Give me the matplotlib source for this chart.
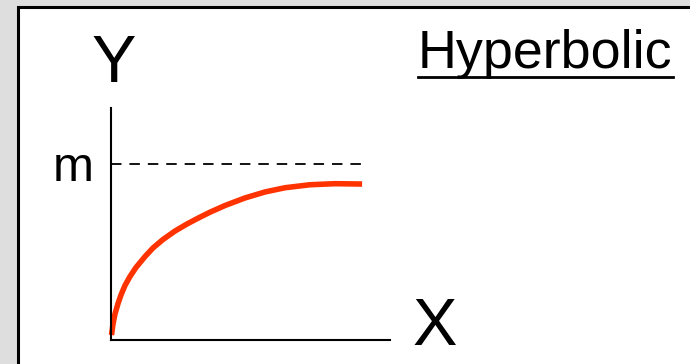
import matplotlib
matplotlib.use("Agg")
import matplotlib.pyplot as plt
from matplotlib.patches import Rectangle
from matplotlib.lines import Line2D

plt.rcParams['font.family'] = ['Liberation Sans', 'DejaVu Sans']

# curve (x in axis units 0..10, y in units of m)
curve_x = [0.018, 0.072, 0.143, 0.251, 0.358, 0.502, 0.681, 0.896, 1.219, 1.505, 1.864,
           2.294, 2.724, 3.118, 3.548, 4.086, 4.803, 5.520, 6.237, 7.133, 8.029, 9.00]
curve_y = [0.028, 0.091, 0.148, 0.207, 0.256, 0.310, 0.361, 0.412, 0.474, 0.523, 0.571,
           0.619, 0.659, 0.692, 0.726, 0.764, 0.807, 0.841, 0.865, 0.882, 0.888, 0.886]
m_level = 1.0
m_end = 8.95
tick_labels = ['m']
title = "Hyperbolic"

W, H = 690, 364
fig = plt.figure(figsize=(W / 100, H / 100), dpi=100, facecolor='#dedede')

# white panel with black frame, kept behind the axes
fig.patches.append(Rectangle((17.5 / W, -0.1), 1.2, (H - 6.5) / H + 0.1, transform=fig.transFigure,
                             facecolor='white', edgecolor='black', linewidth=2.2, zorder=-5))

ax = fig.add_axes([111 / W, 24 / H, 279 / W, 232 / H])
ax.set_facecolor('none')
ax.set_zorder(2)
ax.set_xlim(0, 10)
ax.set_ylim(0, 1.318)
for s in ['top', 'right']:
    ax.spines[s].set_visible(False)
for s in ['left', 'bottom']:
    ax.spines[s].set_linewidth(1.5)
ax.set_xticks([])
ax.set_yticks([m_level])
ax.set_yticklabels(tick_labels, fontsize=35.5)
ax.tick_params(axis='y', length=0, pad=12.5)

ax.plot([0, m_end], [m_level, m_level], color='black', lw=1.3, dashes=(5.8, 4.4))
ax.plot(curve_x, curve_y, color='#ff3300', lw=4.0, solid_capstyle='butt',
        solid_joinstyle='round', clip_on=False)

fig.text(114 / W, (H - 82) / H, "Y", fontsize=48, ha='center', va='baseline')
fig.text(435 / W, (H - 345) / H, "X", fontsize=48, ha='center', va='baseline')
t = fig.text(418 / W, (H - 68) / H, title, fontsize=38.8, ha='left', va='baseline')

# underline the title
fig.canvas.draw()
bb = t.get_window_extent().transformed(fig.transFigure.inverted())
uy = (H - 77) / H
fig.add_artist(Line2D([bb.x0, bb.x1], [uy, uy], transform=fig.transFigure,
                      color='black', lw=2))

fig.savefig("out.png", dpi=100, facecolor=fig.get_facecolor())
